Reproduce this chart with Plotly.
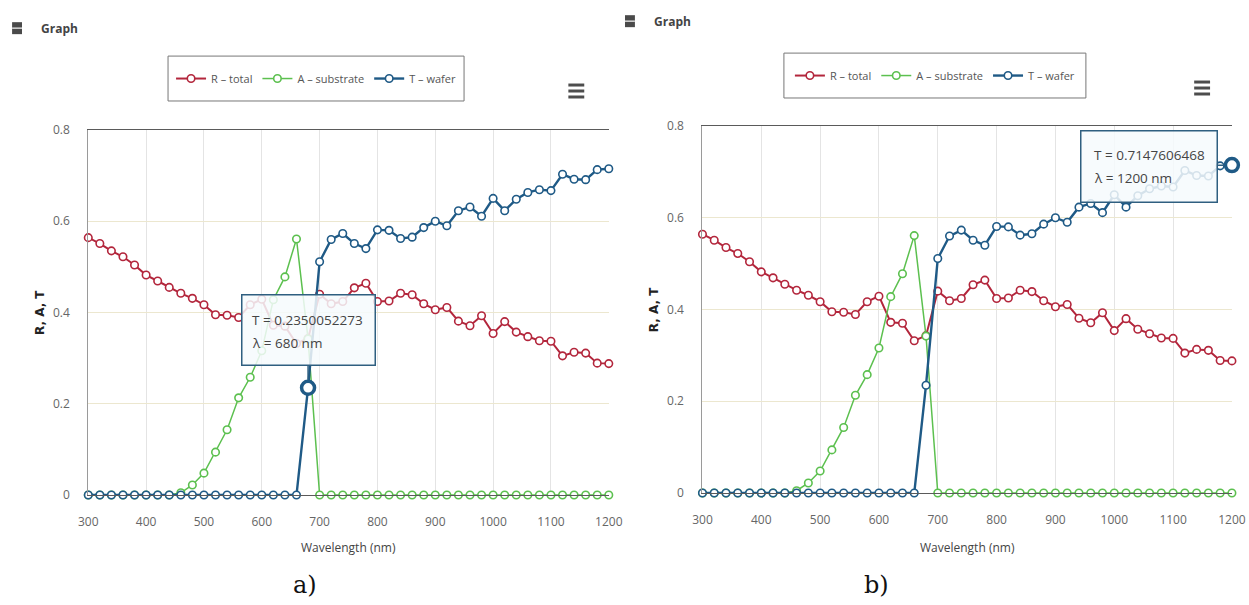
import plotly.graph_objects as go

W, H = 1249, 605
# the page is shown with an 8px body margin and then fitted into the window,
# so target pixel positions are mapped back into figure pixels
PAD = 8
KX, KY = (W + 2 * PAD) / W, (H + 2 * PAD) / H

wavelength = [300, 320, 340, 360, 380, 400, 420, 440, 460, 480, 500, 520, 540, 560, 580,
              600, 620, 640, 660, 680, 700, 720, 740, 760, 780, 800, 820, 840, 860, 880,
              900, 920, 940, 960, 980, 1000, 1020, 1040, 1060, 1080, 1100, 1120, 1140,
              1160, 1180, 1200]

R_total = [0.564, 0.551, 0.535, 0.522, 0.504, 0.482, 0.469, 0.455, 0.442, 0.431, 0.417,
           0.395, 0.394, 0.389, 0.417, 0.429, 0.372, 0.370, 0.332, 0.343, 0.440, 0.419,
           0.424, 0.454, 0.464, 0.424, 0.425, 0.442, 0.439, 0.419, 0.406, 0.411, 0.381,
           0.371, 0.393, 0.354, 0.380, 0.357, 0.347, 0.338, 0.337, 0.305, 0.313, 0.311,
           0.289, 0.288]

A_substrate = [0, 0, 0, 0, 0, 0, 0, 0, 0.005, 0.022, 0.048, 0.094, 0.143, 0.213, 0.258,
               0.316, 0.428, 0.478, 0.561, 0.342, 0, 0, 0, 0, 0, 0, 0, 0, 0, 0,
               0, 0, 0, 0, 0, 0, 0, 0, 0, 0, 0, 0, 0, 0, 0, 0]

T_wafer = [0, 0, 0, 0, 0, 0, 0, 0, 0, 0, 0, 0, 0, 0, 0, 0, 0, 0, 0, 0.2350052273,
           0.511, 0.560, 0.573, 0.551, 0.540, 0.581, 0.580, 0.562, 0.565, 0.586, 0.600,
           0.590, 0.623, 0.631, 0.611, 0.650, 0.623, 0.648, 0.663, 0.669, 0.667, 0.703,
           0.692, 0.691, 0.713, 0.7147606468]

y_ticks = [0, 0.2, 0.4, 0.6, 0.8]
y_labels = ["0", "0.2", "0.4", "0.6", "0.8"]
x_ticks = [300, 400, 500, 600, 700, 800, 900, 1000, 1100, 1200]

series_names = ["R \u2013 total", "A \u2013 substrate", "T \u2013 wafer"]
colors = ["#b3263c", "#5cc04f", "#1f5a86"]
hover_index = [19, 45]          # hovered T point in panel a and b
captions = ["a)", "b)"]

def fxp(x):      # target pixel -> figure pixel
    return x * KX - PAD

def fyp(y):
    return y * KY - PAD

def px(x):
    return fxp(x) / W

def py(y):
    return 1 - fyp(y) / H

# panel geometry (target pixels): left, right, top, bottom
panels = [
    dict(l=86.7, r=610.7, t=129, b=495, header=(10, 27), legend=(167, 465, 55, 100),
         menu=(570, 90), caption=(305, 585), tipbox=(243, 373, 298, 365)),
    dict(l=705, r=1238, t=125, b=493, header=(627, 20), legend=(787, 1091, 52, 97),
         menu=(1200, 87), caption=(880, 585), tipbox=(1090, 1223, 132, 200)),
]

fig = go.Figure()
shapes = []
annotations = []
layout_axes = {}

font_main = "Open Sans"

for i, p in enumerate(panels):
    sfx = "" if i == 0 else str(i + 1)
    xa, ya = "x" + sfx, "y" + sfx
    leg = "legend" if i == 0 else "legend" + str(i + 1)
    series = [R_total, A_substrate, T_wafer]
    widths = [2, 1.5, 2.4]
    for name, vals, col, lw in zip(series_names, series, colors, widths):
        fig.add_trace(go.Scatter(
            x=wavelength, y=vals, name=name, mode="lines+markers",
            line=dict(color=col, width=lw),
            marker=dict(symbol="circle", size=7.5, color="white", line=dict(color=col, width=1.6)),
            xaxis=xa, yaxis=ya, legend=leg, cliponaxis=False, showlegend=True))
    k = hover_index[i]
    fig.add_trace(go.Scatter(
        x=[wavelength[k]], y=[T_wafer[k]], mode="markers", showlegend=False,
        marker=dict(symbol="circle", size=13, color="white",
                    line=dict(color=colors[2], width=3.5)),
        xaxis=xa, yaxis=ya, cliponaxis=False))

    layout_axes["xaxis" + sfx] = dict(
        domain=[px(p["l"]), px(p["r"])], anchor=ya, range=[300, 1200],
        tickvals=x_ticks, showgrid=True, gridcolor="#e4e4e4", gridwidth=1,
        showline=True, linecolor="#5a5a5a", linewidth=1.2, mirror=True,
        zeroline=False, ticks="", ticklabelstandoff=15,
        tickfont=dict(family=font_main, size=12, color="#666"))
    layout_axes["yaxis" + sfx] = dict(
        domain=[py(p["b"]), py(p["t"])], anchor=xa, range=[0, 0.8],
        tickvals=y_ticks, ticktext=y_labels, showgrid=True, gridcolor="#ece7cf",
        gridwidth=1, showline=True, linecolor="#9a9a9a", linewidth=1.2,
        zeroline=False, ticks="", ticklabelstandoff=15,
        tickfont=dict(family=font_main, size=12, color="#666"))

    # legend box
    ll, lr, lt, lb = p["legend"]
    shapes.append(dict(type="rect", xref="paper", yref="paper", x0=px(ll), x1=px(lr),
                       y0=py(lb), y1=py(lt), line=dict(color="#777", width=1),
                       fillcolor="rgba(0,0,0,0)"))
    layout_axes[leg] = dict(orientation="h", x=px((ll + lr) / 2), y=py((lt + lb) / 2),
                            xanchor="center", yanchor="middle", bgcolor="rgba(0,0,0,0)",
                            font=dict(family=font_main, size=11, color="#555"),
                            itemclick=False, itemdoubleclick=False)

    # header icon and "Graph"
    hx, hy = p["header"]
    shapes.append(dict(type="rect", xref="paper", yref="paper", x0=px(hx), x1=px(hx + 10),
                       y0=py(hy + 6), y1=py(hy - 6), line=dict(width=0), fillcolor="#4a4a4a"))
    shapes.append(dict(type="line", xref="paper", yref="paper", x0=px(hx), x1=px(hx + 10),
                       y0=py(hy), y1=py(hy), line=dict(width=1.5, color="#d8d8d8")))
    annotations.append(dict(text="<b>Graph</b>", xref="paper", yref="paper", x=px(hx + 27),
                            y=py(hy), xanchor="left", yanchor="middle", showarrow=False,
                            font=dict(family=font_main, size=12, color="#444")))

    # menu icon
    mx, my = p["menu"]
    for d in (-6, 0, 6):
        shapes.append(dict(type="line", xref="paper", yref="paper", x0=px(mx), x1=px(mx + 16),
                           y0=py(my + d), y1=py(my + d), line=dict(width=3, color="#4d4d4d")))

    # axis titles
    annotations.append(dict(text="<b>R, A, T</b>", xref="paper", yref="paper",
                            x=px(p["l"] - 48), y=py((p["t"] + p["b"]) / 2), textangle=-90,
                            xanchor="center", yanchor="middle",
                            showarrow=False, font=dict(family="DejaVu Sans", size=12, color="#222")))
    annotations.append(dict(text="Wavelength (nm)", xref="paper", yref="paper",
                            x=px((p["l"] + p["r"]) / 2), y=py(548),
                            xanchor="center", yanchor="middle", showarrow=False,
                            font=dict(family=font_main, size=12, color="#444")))
    cx, cy = p["caption"]
    annotations.append(dict(text=captions[i], xref="paper", yref="paper", x=px(cx), y=py(cy),
                            xanchor="center", yanchor="middle",
                            showarrow=False, font=dict(family="DejaVu Serif", size=24, color="#111")))

    # tooltip: box with pointer, then two text lines
    bl, br, bt, bb = p["tipbox"]
    pt_x = fxp(p["l"]) + (wavelength[k] - 300) / 900 * (fxp(p["r"]) - fxp(p["l"]))
    pt_y = fyp(p["b"]) - T_wafer[k] / 0.8 * (fyp(p["b"]) - fyp(p["t"]))
    annotations.append(dict(
        text="", xref=xa, yref=ya, x=wavelength[k], y=T_wafer[k],
        ax=(fxp(bl) + fxp(br)) / 2 - pt_x, ay=(fyp(bt) + fyp(bb)) / 2 - pt_y,
        width=fxp(br) - fxp(bl), height=fyp(bb) - fyp(bt),
        showarrow=True, arrowhead=0, arrowwidth=1.5, arrowcolor="#2f5f80", standoff=8,
        bgcolor="rgba(246,250,253,0.85)", bordercolor="#2f5f80", borderwidth=1.5, borderpad=0))
    lines = ["T = %s" % repr(T_wafer[k]), "\u03bb = %d nm" % wavelength[k]]
    for j, txt in enumerate(lines):
        annotations.append(dict(
            text=txt, xref="paper", yref="paper", x=px(bl + 7), y=py(bt + 22 + 23 * j),
            xanchor="left", yanchor="middle", showarrow=False,
            font=dict(family=font_main, size=13.5, color="#444")))

fig.update_layout(
    width=W, height=H, margin=dict(l=0, r=0, t=0, b=0),
    paper_bgcolor="white", plot_bgcolor="white",
    shapes=shapes, annotations=annotations, hovermode=False,
    **layout_axes)

fig.write_html("out.html", config=dict(displayModeBar=False))
